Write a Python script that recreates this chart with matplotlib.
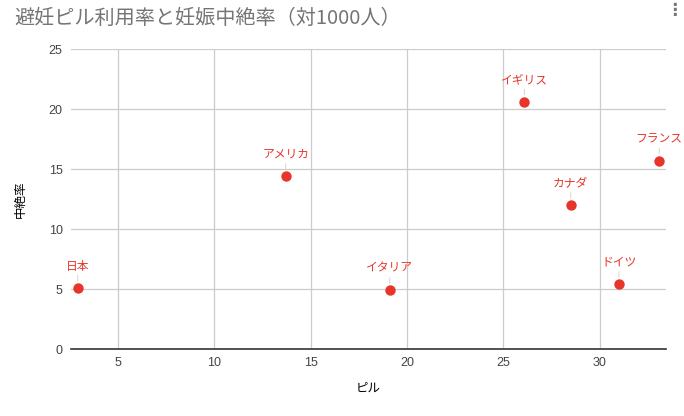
import matplotlib
matplotlib.use("Agg")
import matplotlib.pyplot as plt

plt.rcParams['font.family'] = ['Noto Sans CJK JP', 'DejaVu Sans']

# data
countries = ['日本', 'アメリカ', 'イタリア', 'イギリス', 'カナダ', 'ドイツ', 'フランス']
pill = [2.9, 13.7, 19.1, 26.1, 28.5, 31.0, 33.1]
abortion = [5.1, 14.4, 4.9, 20.6, 12.0, 5.4, 15.7]
x_ticks = [5, 10, 15, 20, 25, 30]
y_ticks = [0, 5, 10, 15, 20, 25]

red = '#e8352a'

fig = plt.figure(figsize=(6.84, 4.16), dpi=100)
ax = fig.add_axes([71/684, 1 - 349/416, (666 - 71)/684, (349 - 49)/416])

ax.scatter(pill, abortion, s=56, color=red, zorder=3, linewidths=0)

for name, x, y in zip(countries, pill, abortion):
    ax.annotate(name, xy=(x, y), xytext=(0, 11), textcoords='offset points',
                ha='center', va='bottom', fontsize=8.5, color=red,
                arrowprops=dict(arrowstyle='-', color='#d9d9d9', lw=0.8,
                                shrinkA=0, shrinkB=5))

ax.set_xlim(2.55, 33.45)
ax.set_ylim(0, 25)
ax.set_xticks(x_ticks)
ax.set_yticks(y_ticks)
ax.grid(True, color='#cccccc', lw=0.9)
ax.set_axisbelow(True)
for s in ['top', 'right', 'left']:
    ax.spines[s].set_visible(False)
ax.spines['bottom'].set_color('#333333')
ax.spines['bottom'].set_linewidth(1.2)
ax.tick_params(length=0, labelsize=9, labelcolor='#444444', pad=6)
for lab in ax.get_xticklabels() + ax.get_yticklabels():
    lab.set_family(['Liberation Sans', 'DejaVu Sans'])

ax.set_xlabel('ピル', fontsize=9, labelpad=9)
ax.set_ylabel('中絶率', fontsize=9, labelpad=16)

fig.text(14/684, 1 - 18/416, '避妊ピル利用率と妊娠中絶率（対1000人）',
         fontsize=14.5, color='#757575', va='center', ha='left')
fig.text(674/684, 1 - 10/416, '⋮', fontsize=12, color='#777777',
         va='center', ha='center', family='DejaVu Sans', fontweight='bold')

fig.savefig('out.png', dpi=100)
